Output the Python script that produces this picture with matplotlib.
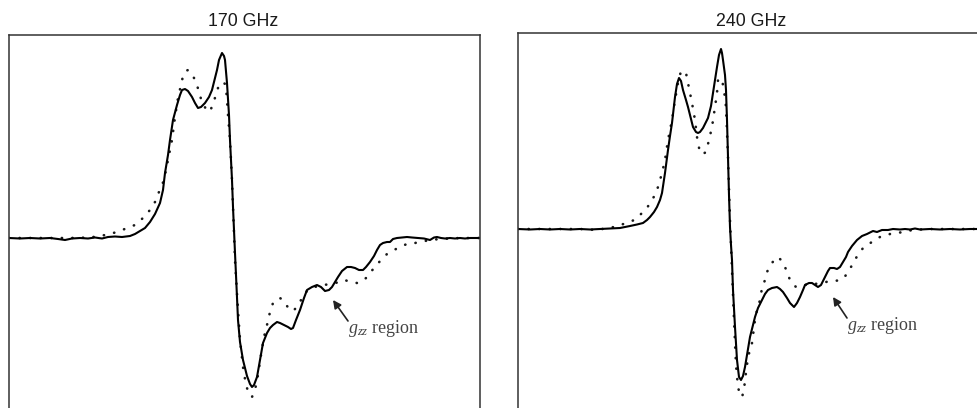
import matplotlib
matplotlib.use("Agg")
import matplotlib.pyplot as plt

plt.rcParams['mathtext.fontset'] = 'custom'
plt.rcParams['mathtext.it'] = 'Liberation Serif:italic'
plt.rcParams['mathtext.rm'] = 'Liberation Serif'

# ---------------- data: 170 GHz ----------------
field_170_exp = [9, 20, 30, 40, 50, 58, 65, 72, 80, 88, 95, 102, 108, 115, 122, 130, 135, 140, 145, 150,
                 155, 160, 163, 165, 168, 170, 173, 177, 180, 182, 185, 188, 192, 195, 198, 201, 205, 209,
                 212, 215, 217, 219, 222, 224, 225, 227, 229, 230, 232, 233, 235, 236, 238, 240, 243, 247,
                 250, 252, 254, 257, 260, 263, 267, 270, 273, 277, 280, 284, 288, 291, 293, 296, 300, 304,
                 307, 312, 317, 321, 325, 329, 332, 335, 338, 342, 347, 351, 355, 359, 363, 366, 370, 374,
                 377, 380, 383, 387, 390, 393, 397, 402, 407, 412, 418, 424, 430, 434, 437, 441, 445, 450,
                 455, 460, 465, 470, 475, 480]
signal_170_exp = [0, -0.5, 0, -0.5, 0, -1, -2, -0.5, 0, -0.5, 0.5, -0.5, 1, 1.5, 1, 2, 4, 7, 10, 16,
                  24, 35, 48, 65, 83, 98, 118, 133, 143, 148, 149, 147, 141, 135, 130, 131, 135, 141,
                  148, 160, 168, 178, 185, 182, 178, 155, 123, 98, 58, 31, -15, -37, -82, -104, -122, -138,
                  -146, -149, -147, -139, -122, -105, -95, -90, -87, -84, -85, -87, -89, -91, -90, -82, -72, -60,
                  -52, -49, -47, -49, -53, -52, -49, -44, -39, -33, -29, -29, -30, -32, -32, -29, -24, -18,
                  -12, -7, -5, -4, -4, -1, 0, 0.5, 1, 0.5, 0, -0.5, -2, 0.5, 1, 0, -0.5, 0,
                  -0.5, 0, -0.5, 0, 0, 0]

field_170_sim = [9, 30, 50, 70, 90, 100, 110, 120, 127, 135, 143, 150, 155, 158, 162, 165, 168, 172, 175,
                 178, 181, 183, 186, 188, 191, 194, 197, 200, 203, 206, 209, 211, 214, 218, 220, 223, 225,
                 226, 227, 228, 230, 232, 233, 235, 238, 240, 243, 246, 249, 252, 255, 258, 261, 264, 267,
                 270, 273, 277, 280, 284, 287, 290, 293, 296, 300, 303, 307, 312, 318, 324, 330, 335, 340,
                 344, 348, 352, 357, 360, 363, 367, 370, 374, 377, 380, 383, 387, 390, 394, 398, 402, 407,
                 411, 415, 420, 425, 430, 440, 450, 460, 470, 480]
signal_170_sim = [0, 0, 0, 0, 0.5, 2, 4, 7, 10, 13, 20, 28, 36, 44, 52, 63, 78, 98, 121,
                  140, 153, 162, 167, 168, 165, 160, 153, 142, 134, 129, 126, 129, 137, 150, 154, 156, 154,
                  150, 138, 123, 98, 58, 31, -22, -72, -102, -129, -147, -156, -159, -152, -137, -117, -99, -87,
                  -74, -65, -61, -60, -63, -68, -72, -73, -70, -64, -58, -53, -50, -48, -47, -46, -45, -44,
                  -42, -43, -44, -45, -44, -43, -39, -35, -30, -27, -23, -20, -16, -14, -12, -10, -8, -6,
                  -5, -5, -4, -3, -2, -1, -0.5, 0, 0, 0]

# ---------------- data: 240 GHz ----------------
field_240_exp = [518, 530, 540, 550, 560, 570, 580, 590, 600, 610, 620, 630, 637, 643, 647, 650, 654, 657,
                 660, 662, 665, 668, 670, 672, 675, 677, 679, 681, 683, 686, 688, 690, 693, 696, 698, 700,
                 703, 706, 708, 711, 713, 715, 717, 719, 721, 722, 723, 725, 726, 727, 728, 729, 730, 731,
                 732, 733, 735, 737, 739, 741, 743, 745, 747, 750, 753, 755, 758, 762, 765, 768, 772, 777,
                 780, 783, 787, 790, 794, 797, 800, 803, 805, 809, 812, 815, 818, 821, 825, 828, 830, 834,
                 837, 840, 843, 846, 848, 852, 857, 862, 867, 873, 877, 882, 888, 893, 900, 905, 910, 915,
                 920, 930, 940, 950, 960, 970, 977]
signal_240_exp = [0, -0.5, 0, -0.5, 0, -0.5, 0, -0.5, 0, 0.5, 1, 3, 4.5, 6, 9, 12, 17, 22,
                  29, 36, 56, 79, 93, 106, 132, 145, 151, 148, 139, 129, 122, 114, 102, 97, 96, 97,
                  101, 107, 111, 123, 136, 149, 162, 174, 180, 176, 169, 154, 139, 109, 72, 34, 2, -16,
                  -31, -61, -98, -131, -148, -151, -147, -138, -126, -108, -96, -88, -79, -71, -65, -61, -59, -58,
                  -60, -63, -69, -74, -78, -74, -68, -61, -56, -54, -54, -56, -58, -56, -48, -42, -39, -39,
                  -40, -38, -33, -28, -23, -17, -11, -7, -5, -2, -3, -1, -1, 0, -0.5, 0, -0.5, 0.5,
                  -0.5, 0, -0.5, 0, -0.5, 0, 0]

field_240_sim = [518, 540, 560, 580, 597, 605, 614, 620, 627, 633, 637, 643, 647, 650, 655, 658, 662, 665,
                 668, 672, 675, 678, 681, 683, 686, 688, 690, 692, 695, 697, 700, 703, 706, 709, 712, 715,
                 717, 718, 720, 722, 724, 726, 728, 730, 732, 734, 736, 738, 740, 742, 744, 745, 747, 748,
                 750, 752, 755, 757, 760, 762, 765, 767, 770, 772, 775, 778, 781, 783, 785, 787, 790, 793,
                 796, 800, 805, 810, 815, 820, 826, 830, 835, 840, 843, 846, 848, 851, 853, 856, 858, 861,
                 863, 867, 872, 876, 880, 885, 890, 895, 900, 905, 912, 920, 930, 950, 977]
signal_240_sim = [0, 0, 0, 0, -1, 0.5, 2, 4, 6, 8.5, 11, 17, 21, 26, 34, 42, 56, 69,
                  89, 109, 129, 146, 158, 158, 156, 146, 136, 126, 109, 92, 76, 75, 77, 89, 102, 122,
                  136, 149, 151, 149, 139, 122, 72, 9, -41, -91, -136, -158, -166, -168, -161, -151, -136, -128,
                  -121, -114, -91, -81, -71, -59, -51, -43, -37, -34, -30, -28, -31, -34, -38, -43, -51, -55,
                  -58, -57, -56, -55, -55, -54, -53, -52, -52, -51, -50, -46, -43, -38, -34, -29, -26, -22,
                  -19, -16, -13, -10, -8, -7, -5, -4, -3.5, -3, -1, -0.5, 0, 0, 0]

titles = ["170 GHz", "240 GHz"]
annot_label = r"$g_{zz}$ region"
annot_tip = [(333, -62), (833, -68)]
annot_text = [(348, -95), (847, -101)]

# ---------------- figure ----------------
fig = plt.figure(figsize=(9.77, 4.08), dpi=100)
ax1 = fig.add_axes([9 / 977, 0.0, 471 / 977, 373 / 408])
ax2 = fig.add_axes([518 / 977, 0.0, 459 / 977, 375 / 408])

panels = [
    (ax1, field_170_exp, signal_170_exp, field_170_sim, signal_170_sim, (9, 480), (-170, 203)),
    (ax2, field_240_exp, signal_240_exp, field_240_sim, signal_240_sim, (518, 977), (-179, 196)),
]

for i, (ax, fx, fy, sx, sy, xl, yl) in enumerate(panels):
    ax.plot(sx, sy, color="#1a1a1a", lw=1.9, linestyle=(0, (0.1, 3.9)),
            dash_capstyle="round", solid_capstyle="round")
    ax.plot(fx, fy, color="black", lw=1.5, solid_joinstyle="round")
    ax.set_xlim(*xl)
    ax.set_ylim(*yl)
    ax.set_xticks([])
    ax.set_yticks([])
    ax.spines["bottom"].set_visible(False)
    if i == 1:
        ax.spines["right"].set_visible(False)
    for s in ax.spines.values():
        s.set_color("#333333")
        s.set_linewidth(1.1)
    ax.annotate("", xy=annot_tip[i], xytext=(annot_text[i][0], annot_text[i][1] + 12),
                arrowprops=dict(arrowstyle="-|>", color="#222222", lw=1.2,
                                mutation_scale=12, shrinkA=0, shrinkB=0))
    ax.text(annot_text[i][0], annot_text[i][1], annot_label, fontsize=13,
            family="Liberation Serif", color="#444444", va="baseline", ha="left")

fig.text(243 / 977, 1 - 22 / 408, titles[0], ha="center", va="center",
         fontsize=12.8, family="Liberation Sans", color="#1a1a1a")
fig.text(751 / 977, 1 - 21 / 408, titles[1], ha="center", va="center",
         fontsize=12.8, family="Liberation Sans", color="#1a1a1a")

fig.savefig("out.png", dpi=100)
